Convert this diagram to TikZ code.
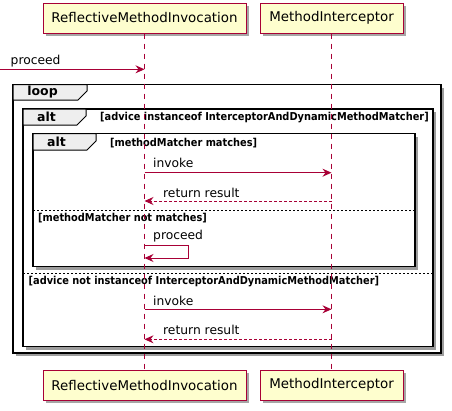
\documentclass[tikz,border=0pt]{standalone}
\usepackage{fontspec}
\setmainfont{DejaVu Sans}
\newfontfamily\guardfont[FakeStretch=0.9]{DejaVu Sans}
\usetikzlibrary{arrows.meta,positioning,shadows}

\definecolor{umlred}{HTML}{A80036}
\definecolor{umlyellow}{HTML}{FEFECE}
\definecolor{tabgray}{HTML}{EEEEEE}

\begin{document}
\begin{tikzpicture}[x=1pt,y=-1pt,>={Stealth[length=9pt,width=8pt,inset=3pt]},node distance=13pt,
    participant/.style={draw=umlred,fill=umlyellow,line width=1pt,minimum height=30pt,
        font=\fontsize{13.4}{16}\selectfont,
        drop shadow={shadow xshift=3pt,shadow yshift=-3pt,fill=black!50,opacity=0.7}},
    lifeline/.style={draw=umlred,line width=0.8pt,dash pattern=on 5pt off 5pt},
    msg/.style={->,draw=umlred,line width=1pt},
    reply/.style={msg,dash pattern=on 3pt off 2pt},
    frame/.style={draw=black,line width=1.6pt,fill=white,
        drop shadow={shadow xshift=3pt,shadow yshift=-3pt,fill=black!55,opacity=0.7}},
    tab/.style={draw=black,line width=1pt,fill=tabgray},
    divider/.style={draw=black,line width=0.7pt,dash pattern=on 2pt off 2pt},
    kw/.style={font=\fontsize{12.5}{14}\selectfont\bfseries,inner sep=0pt},
    guard/.style={font=\guardfont\fontsize{10.9}{13}\selectfont\bfseries,inner sep=0pt,anchor=west},
    msglabel/.style={font=\fontsize{12.3}{15}\selectfont,inner sep=0pt,anchor=west}]

    \useasboundingbox (0,0) rectangle (452,410);

    \node[participant,minimum width=203pt] (rmiTop) at (144.5,18) {ReflectiveMethodInvocation};
    \node[participant,minimum width=143pt] (miTop) [right=of rmiTop] {MethodInterceptor};
    \node[participant,minimum width=203pt] (rmiBot) at (144.5,385) {ReflectiveMethodInvocation};
    \node[participant,minimum width=143pt] (miBot) [right=of rmiBot] {MethodInterceptor};

    % loop
    \draw[frame] (13,84.5) rectangle (441,353);
    \draw[tab] (13,84.5) -- (87,84.5) -- (87,91) -- (78,100) -- (13,100) -- cycle;
    \node[kw] (loopKw) at (42.5,92.5) {loop};

    % alt advice
    \draw[frame] (23,109) rectangle (433,346.5);
    \draw[tab] (23,109) -- (86,109) -- (86,116) -- (77,125) -- (23,125) -- cycle;
    \node[kw] (altKw) at (46.5,117) {alt};
    \node[guard] (adviceYes) at (100,118) {[advice instanceof InterceptorAndDynamicMethodMatcher]};

    % alt matcher
    \draw[frame] (33,133.5) rectangle (415,266.5);
    \draw[tab] (33,133.5) -- (96,133.5) -- (96,141) -- (87,150) -- (33,150) -- cycle;
    \node[kw] (altInnerKw) at (56.5,142) {alt};
    \node[guard] (matchYes) at (110,143) {[methodMatcher matches]};

    \draw[divider] (33,210) -- (415,210);
    \node[guard] (matchNo) at (38,218) {[methodMatcher not matches]};
    \draw[divider] (23,273.5) -- (433,273.5);
    \node[guard] (adviceNo) at (28.5,282) {[advice not instanceof InterceptorAndDynamicMethodMatcher]};

    \draw[lifeline] (rmiTop.south) -- (rmiBot.north);
    \draw[lifeline] (miTop.south) -- (miBot.north);

    % messages
    \coordinate (entry) at (0,69.3);
    \draw[msg] (entry) -- (rmiTop |- entry);
    \node[msglabel] (proceedIn) at (10.5,61) {proceed};

    \draw[msg] (rmiTop |- 0,172.7) -- (miTop |- 0,172.7);
    \node[msglabel] (invokeA) at (153,162.5) {invoke};
    \draw[reply] (miTop |- 0,201) -- (rmiTop |- 0,201);
    \node[msglabel] (resultA) at (163,192.5) {return result};

    \draw[msg] (rmiTop |- 0,245.5) -- ++(43.5,0) |- (rmiTop |- 0,258);
    \node[msglabel] (proceedSelf) at (153,236.5) {proceed};

    \draw[msg] (rmiTop |- 0,309.3) -- (miTop |- 0,309.3);
    \node[msglabel] (invokeB) at (153,300.5) {invoke};
    \draw[reply] (miTop |- 0,339.3) -- (rmiTop |- 0,339.3);
    \node[msglabel] (resultB) at (163,330.3) {return result};

\end{tikzpicture}
\end{document}
